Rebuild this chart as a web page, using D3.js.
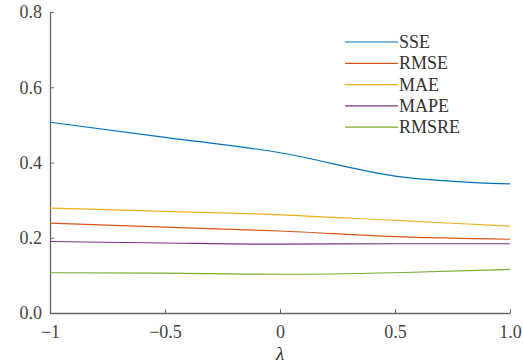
<!DOCTYPE html>
<html>
<head>
<meta charset="utf-8">
<script src="https://cdn.jsdelivr.net/npm/d3@7"></script>
<style>
  body { margin: 0; background: #fff; }
</style>
</head>
<body>
<div id="chart"></div>
<script>
// lambda values along the x axis
const lambdas = [-1, -0.5, 0, 0.5, 1];
const seriesNames = ["SSE", "RMSE", "MAE", "MAPE", "RMSRE"];
const sse = [0.507, 0.467, 0.426, 0.364, 0.343];
const rmse = [0.239, 0.228, 0.218, 0.203, 0.196];
const mae = [0.279, 0.270, 0.261, 0.246, 0.231];
const mape = [0.190, 0.186, 0.183, 0.184, 0.184];
const rmsre = [0.107, 0.106, 0.103, 0.107, 0.116];
const colors = ["#0072BD", "#D95319", "#EDB120", "#7E2F8E", "#77AC30"];
const xTicks = [-1, -0.5, 0, 0.5, 1];
const xTickLabels = ["\u22121", "\u22120.5", "0", "0.5", "1.0"];
const yTicks = [0, 0.2, 0.4, 0.6, 0.8];
const yTickLabels = ["0.0", "0.2", "0.4", "0.6", "0.8"];

const FONT = "'Liberation Serif', 'Times New Roman', Tinos, serif";
const width = 523, height = 363;
const margin = { left: 50, right: 13, top: 12, bottom: 50 };

const svg = d3.select("#chart").append("svg")
    .attr("width", width)
    .attr("height", height)
    .attr("font-family", FONT)
    .style("font-family", FONT);

const x = d3.scaleLinear().domain([-1, 1]).range([margin.left, width - margin.right]);
const y = d3.scaleLinear().domain([0, 0.8]).range([height - margin.bottom, margin.top]);

const allSeries = [sse, rmse, mae, mape, rmsre];

// axes
const xAxis = svg.append("g")
    .attr("transform", `translate(0,${height - margin.bottom})`)
    .call(d3.axisBottom(x).tickValues(xTicks).tickSizeInner(-4).tickSizeOuter(0)
        .tickPadding(12).tickFormat((d, i) => xTickLabels[i]));

const yAxis = svg.append("g")
    .attr("transform", `translate(${margin.left},0)`)
    .call(d3.axisLeft(y).tickValues(yTicks).tickSizeInner(-4).tickSizeOuter(0)
        .tickPadding(8).tickFormat((d, i) => yTickLabels[i]));

[xAxis, yAxis].forEach(a => {
    a.attr("font-family", FONT).attr("font-size", 18);
    a.select(".domain").attr("stroke", "#666").attr("stroke-width", 1.3);
    a.selectAll(".tick line").attr("stroke", "#666").attr("stroke-width", 1);
    a.selectAll("text").attr("fill", "#444")
        .style("font-family", FONT).style("font-size", "18px");
});

// lines
const line = d3.line()
    .x((d, i) => x(lambdas[i]))
    .y(d => y(d))
    .curve(d3.curveMonotoneX);

svg.append("g").selectAll("path")
    .data(allSeries)
    .enter().append("path")
    .attr("d", d => line(d))
    .attr("fill", "none")
    .attr("stroke", (d, i) => colors[i])
    .attr("stroke-width", 1.2);

// legend
const legend = svg.append("g").attr("transform", "translate(345,42)");
seriesNames.forEach((name, i) => {
    const row = legend.append("g").attr("transform", `translate(0,${i * 21.3})`);
    row.append("line")
        .attr("x1", 0).attr("x2", 53)
        .attr("stroke", colors[i]).attr("stroke-width", 1.2);
    row.append("text")
        .attr("x", 54).attr("y", 6)
        .style("font-family", FONT)
        .style("font-size", "18px")
        .attr("fill", "#333")
        .text(name);
});

// x axis label
svg.append("text")
    .attr("x", x(0))
    .attr("y", 360)
    .attr("text-anchor", "middle")
    .style("font-family", FONT)
    .style("font-size", "19px")
    .style("font-style", "italic")
    .attr("fill", "#333")
    .text("\u03bb");
</script>
</body>
</html>
